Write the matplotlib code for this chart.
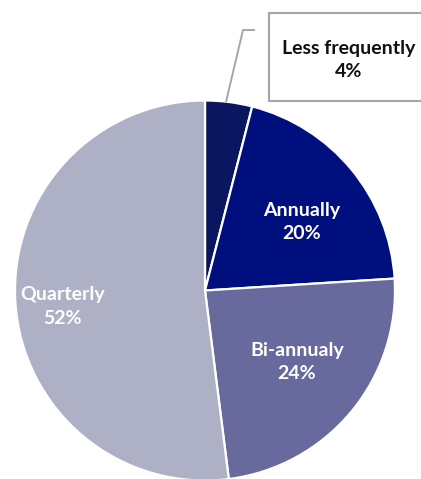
import matplotlib
matplotlib.use("Agg")
import matplotlib.pyplot as plt
import matplotlib.patches as mpatches
import numpy as np

categories = ["Less frequently", "Annually", "Bi-annualy", "Quarterly"]
values = [4, 20, 24, 52]
colors = ["#0b1660", "#000f7e", "#686a9e", "#aeb0c6"]
label_dist = [0.0, 0.625, 0.613, 0.757]
label_angle_shift = [0.0, -4.2, 1.7, 2.8]

W, H = 421, 479
fig = plt.figure(figsize=(W / 100, H / 100), dpi=100)
ax = fig.add_axes([0, 0, 1, 1])

R = 190.0
cx, cy = 205.0, 290.5  # pixel center (from top)

wedges, _ = ax.pie(values, colors=colors, startangle=90, counterclock=False,
                   radius=1, center=(0, 0),
                   wedgeprops=dict(edgecolor="white", linewidth=1.6))
ax.set_aspect("auto")
ax.set_xlim(-cx / R, (W - cx) / R)
ax.set_ylim(-(H - cy) / R, cy / R)
ax.axis("off")

font = dict(family=["Lato", "DejaVu Sans"], fontweight="bold", fontsize=14)

for i, (w, cat, v) in enumerate(zip(wedges, categories, values)):
    if i == 0:
        continue
    th = np.deg2rad((w.theta1 + w.theta2) / 2 + label_angle_shift[i])
    r = label_dist[i]
    ax.text(r * np.cos(th), r * np.sin(th), f"{cat}\n{v}%", color="white",
            ha="center", va="center", linespacing=1.45, **font)

def px(x, y):
    return ((x - cx) / R, (cy - y) / R)

# callout box for the small slice
bx0, by0 = px(269, 101)
bx1, by1 = px(428, 13)
ax.add_patch(mpatches.Rectangle((bx0, by0), bx1 - bx0, by1 - by0,
                                facecolor="white", edgecolor="#a6a6a6",
                                linewidth=1.5, clip_on=False))
tx, ty = px(349, 60)
ax.text(tx, ty, f"{categories[0]}\n{values[0]}%", color="#111111",
        ha="center", va="center", linespacing=1.45, **font)

# leader line
p1 = px(255, 30)
p2 = px(243, 30)
p3 = px(226, 102)
ax.plot([p1[0], p2[0], p3[0]], [p1[1], p2[1], p3[1]], color="#a6a6a6",
        linewidth=1.4, solid_capstyle="butt")

fig.savefig("out.png", dpi=100)
